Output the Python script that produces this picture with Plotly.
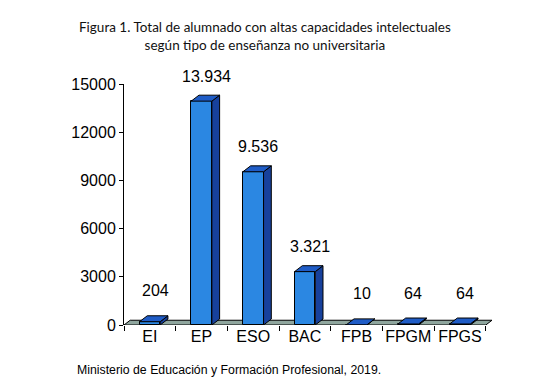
import plotly.graph_objects as go

categories = ["EI", "EP", "ESO", "BAC", "FPB", "FPGM", "FPGS"]
values = [204, 13934, 9536, 3321, 10, 64, 64]
y_ticks = [0, 3000, 6000, 9000, 12000, 15000]

title_text = ("Figura 1. Total de alumnado con altas capacidades intelectuales<br>"
              "según tipo de enseñanza no universitaria")
source_text = "Ministerio de Educación y Formación Profesional, 2019."

FRONT = "#2b87e2"
TOP = "#1f5cc6"
SIDE = "#17419c"
FLOOR = "#8fa69e"

W = 0.40      # front width (category units)
DX = 0.15     # depth offset x (category units)
DY = 370      # depth offset y (value units)

# plot area in pixels
L, T, R, B = 124, 84, 492, 325
FW, FH = 554, 390

def px(xp):
    return (xp - L) / (R - L)

def py(yp):
    return (B - yp) / (B - T)

x = list(range(len(categories)))
n = len(categories)

fig = go.Figure()

# floor (below traces)
fig.add_shape(type="path", xref="x", yref="y", layer="below",
              path=f"M -0.5 0 L {n-0.5} 0 L {n-0.5+DX*0.8} {DY*0.8} L {-0.5+DX*0.8} {DY*0.8} Z",
              fillcolor=FLOOR, line=dict(color="black", width=1))

# front faces
fig.add_trace(go.Bar(x=x, y=values, width=W, marker=dict(color=FRONT, line=dict(color="black", width=1)),
                     hoverinfo="skip", showlegend=False))

# side faces and top faces from the data
sx, sy, tx, ty = [], [], [], []
for xi, v in zip(x, values):
    r = xi + W / 2
    l = xi - W / 2
    sx += [r, r + DX, r + DX, r, r, None]
    sy += [0, DY, v + DY, v, 0, None]
    tx += [l, r, r + DX, l + DX, l, None]
    ty += [v, v, v + DY, v + DY, v, None]
fig.add_trace(go.Scatter(x=sx, y=sy, mode="lines", fill="toself", fillcolor=SIDE,
                         line=dict(color="black", width=1), hoverinfo="skip", showlegend=False))
fig.add_trace(go.Scatter(x=tx, y=ty, mode="lines", fill="toself", fillcolor=TOP,
                         line=dict(color="black", width=1), hoverinfo="skip", showlegend=False))

# data labels
for xi, v in zip(x, values):
    fig.add_annotation(x=xi + 0.1, y=v + DY, text=f"{v:,}".replace(",", "."), showarrow=False,
                       yanchor="middle", yshift=19 if v > 1000 else 25,
                       font=dict(family="Liberation Sans, Arial", size=16, color="black"))

fig.add_annotation(xref="paper", yref="paper", x=px(265), y=py(36), text=title_text,
                   showarrow=False, xanchor="center", yanchor="middle",
                   font=dict(family="Lato", size=13.5, color="#111111"))
fig.add_annotation(xref="paper", yref="paper", x=px(75), y=py(370), text=source_text,
                   showarrow=False, xanchor="left", yanchor="middle",
                   font=dict(family="Liberation Sans, Arial", size=12.3, color="black"))

fig.update_layout(
    width=FW, height=FH,
    margin=dict(l=L, r=FW - R, t=T, b=FH - B, autoexpand=False),
    plot_bgcolor="white", paper_bgcolor="white",
    bargap=0,
    xaxis=dict(range=[-0.5, n - 0.5 + 0.12], tickvals=x, ticktext=categories,
               showline=False, showgrid=False, zeroline=False, ticks="",
               tickfont=dict(family="Liberation Sans, Arial", size=16, color="black"),
               minor=dict(tick0=-0.5, dtick=1, ticks="outside", ticklen=5, tickcolor="black")),
    yaxis=dict(range=[0, 15000], tickvals=y_ticks, ticktext=[str(t) for t in y_ticks],
               showline=True, linecolor="black", linewidth=1,
               ticks="outside", ticklen=4, tickcolor="black", showgrid=False, zeroline=False,
               tickfont=dict(family="Liberation Sans, Arial", size=16, color="black")),
)

fig.write_html("out.html", config={"displayModeBar": False},
               post_script="document.body.style.margin='0px';")
